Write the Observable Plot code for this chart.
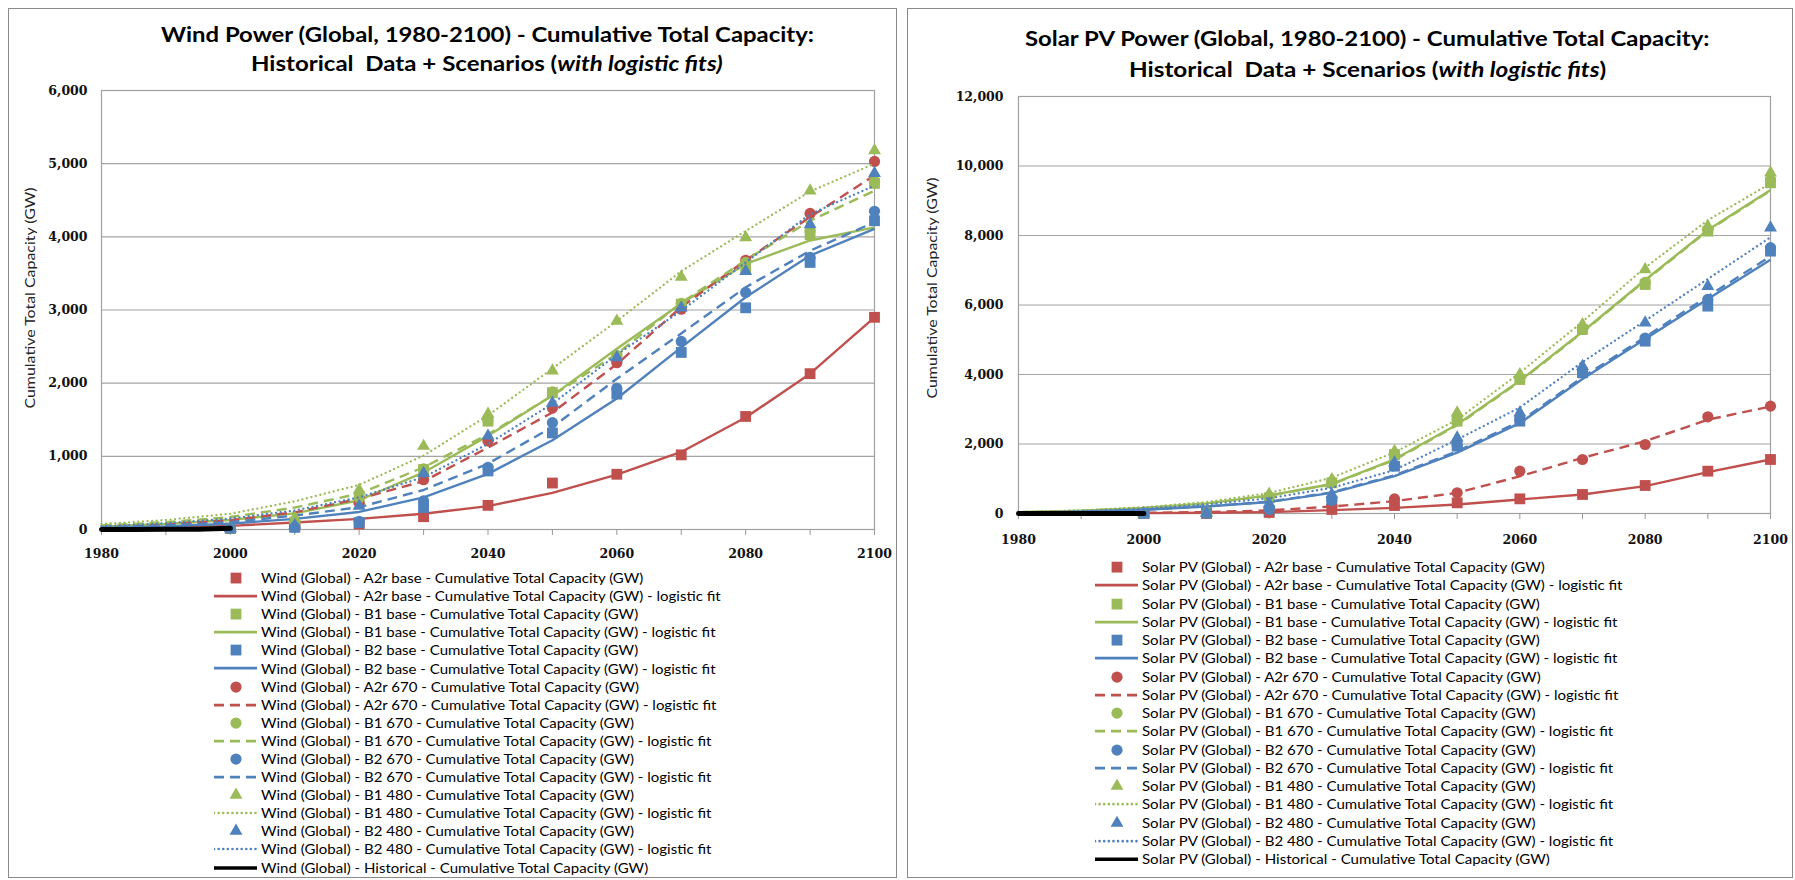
<!DOCTYPE html>
<html>
<head>
<meta charset="utf-8">
<script src="https://cdn.jsdelivr.net/npm/d3@7"></script>
<script src="https://cdn.jsdelivr.net/npm/@observablehq/plot@0.6"></script>
<style>
  html, body { margin: 0; padding: 0; background: #fff; }
  body { width: 1795px; height: 880px; position: relative; overflow: hidden; font-family: Lato, sans-serif; color: #000; }
  .panel { position: absolute; border: 1px solid #8a8a8a; box-sizing: border-box; }
  .title { position: absolute; width: 0; font-family: Lato, sans-serif; font-weight: bold; font-size: 21px; }
  .title .line { position: absolute; left: 0; white-space: nowrap; transform-origin: 0 50%; }
  .chart { position: absolute; }
  .legend { position: absolute; font-family: Lato, sans-serif; font-size: 13px; color: #000; }
  .legend .row { display: flex; align-items: center; white-space: nowrap; }
  .legend svg { flex: none; margin-right: 4px; }
  .legend .txt { display: inline-block; transform-origin: 0 50%; }
</style>
</head>
<body>
<div class="panel" style="left:8px;top:8px;width:889px;height:870px;"></div>
<div class="panel" style="left:907px;top:8px;width:886px;height:870px;"></div>
<div class="title" id="title-wind" style="left:487px;top:0px;"></div>
<div class="title" id="title-solar" style="left:1367px;top:0px;"></div>
<div class="chart" id="chart-wind" style="left:9px;top:80px;"></div>
<div class="chart" id="chart-solar" style="left:908px;top:80px;"></div>
<div class="legend" id="legend-wind" style="left:214px;top:569px;"></div>
<div class="legend" id="legend-solar" style="left:1095px;top:558px;"></div>
<script>
// ---------- categories / years ----------
const scenarios = ["A2r base", "B1 base", "B2 base", "A2r 670", "B1 670", "B2 670", "B1 480", "B2 480"];
const pointYears = [2000, 2010, 2020, 2030, 2040, 2050, 2060, 2070, 2080, 2090, 2100];
const fitYears = [1980, 1990, 2000, 2010, 2020, 2030, 2040, 2050, 2060, 2070, 2080, 2090, 2100];
const histYears = [1980, 1985, 1990, 1995, 2000];

// ---------- Wind: scenario points (GW) ----------
const windA2rBase = [17, 40, 75, 175, 330, 635, 755, 1020, 1545, 2130, 2900];
const windB1Base  = [17, 100, 420, 820, 1480, 1870, 2360, 3080, 3580, 4030, 4730];
const windB2Base  = [17, 30, 95, 300, 800, 1320, 1850, 2420, 3030, 3650, 4220];
const windA2r670  = [17, 50, 360, 680, 1210, 1660, 2280, 3010, 3680, 4320, 5030];
const windB1670   = [17, 100, 430, 830, 1490, 1880, 2380, 3090, 3650, 4080, 4760];
const windB2670   = [17, 30, 110, 390, 850, 1460, 1930, 2570, 3240, 3720, 4350];
const windB1480   = [17, 160, 540, 1140, 1580, 2170, 2850, 3450, 3990, 4630, 5180];
const windB2480   = [17, 60, 320, 770, 1280, 1730, 2350, 3030, 3530, 4170, 4870];
// ---------- Wind: logistic fits (GW) ----------
const windA2rBaseFit = [10, 25, 50, 95, 145, 215, 320, 500, 750, 1060, 1530, 2130, 2900];
const windB1BaseFit  = [40, 75, 130, 220, 400, 780, 1280, 1830, 2470, 3090, 3630, 3950, 4130];
const windB2BaseFit  = [20, 40, 80, 145, 240, 440, 760, 1220, 1790, 2490, 3175, 3745, 4110];
const windA2r670Fit  = [35, 70, 125, 235, 420, 660, 1120, 1600, 2260, 3040, 3680, 4270, 4840];
const windB1670Fit   = [55, 100, 170, 300, 490, 850, 1300, 1830, 2400, 3100, 3680, 4220, 4630];
const windB2670Fit   = [30, 55, 100, 190, 305, 540, 900, 1400, 2060, 2680, 3310, 3810, 4200];
const windB1480Fit   = [75, 130, 215, 385, 610, 1010, 1560, 2200, 2850, 3530, 4080, 4620, 5000];
const windB2480Fit   = [45, 85, 150, 260, 440, 715, 1170, 1720, 2390, 2990, 3650, 4310, 4700];
const windHistorical = [0, 1, 2, 5, 17];

// ---------- Solar PV: scenario points (GW) ----------
const solarA2rBase = [1, 5, 30, 115, 230, 307, 422, 547, 806, 1218, 1554];
const solarB1Base  = [1, 20, 450, 883, 1698, 2657, 3856, 5295, 6590, 8125, 9516];
const solarB2Base  = [1, 10, 90, 355, 1362, 1938, 2657, 4048, 4960, 5967, 7550];
const solarA2r670  = [1, 5, 60, 211, 422, 595, 1218, 1554, 1986, 2782, 3089];
const solarB1670   = [1, 20, 470, 900, 1720, 2700, 3900, 5300, 6650, 8150, 9600];
const solarB2670   = [1, 10, 120, 380, 1380, 1960, 2700, 4100, 5050, 6160, 7650];
const solarB1480   = [1, 30, 560, 978, 1794, 2897, 4000, 5439, 7022, 8269, 9804];
const solarB2480   = [1, 15, 280, 547, 1458, 2178, 2897, 4240, 5487, 6542, 8221];
// ---------- Solar PV: logistic fits (GW) ----------
const solarA2rBaseFit = [2, 5, 10, 20, 40, 96, 163, 259, 403, 547, 787, 1190, 1554];
const solarB1BaseFit  = [35, 80, 160, 290, 520, 850, 1560, 2560, 3820, 5230, 6720, 8160, 9310];
const solarB2BaseFit  = [25, 55, 110, 200, 330, 595, 1074, 1750, 2600, 3870, 5020, 6170, 7300];
const solarA2r670Fit  = [5, 10, 20, 40, 90, 200, 355, 595, 1070, 1600, 2080, 2700, 3080];
const solarB1670Fit   = [35, 80, 155, 285, 510, 840, 1540, 2540, 3800, 5210, 6700, 8140, 9290];
const solarB2670Fit   = [25, 55, 110, 205, 340, 610, 1100, 1790, 2650, 3920, 5080, 6250, 7400];
const solarB1480Fit   = [40, 90, 180, 330, 590, 1030, 1760, 2700, 4050, 5520, 7080, 8440, 9500];
const solarB2480Fit   = [30, 70, 140, 260, 440, 740, 1250, 2130, 3050, 4360, 5550, 6750, 7950];
const solarHistorical = [0, 0, 0.1, 0.3, 1];

// ---------- tick values / texts ----------
const windYTicks = [0, 1000, 2000, 3000, 4000, 5000, 6000];
const solarYTicks = [0, 2000, 4000, 6000, 8000, 10000, 12000];
const xTicks = fitYears;
const yAxisLabel = "Cumulative Total Capacity (GW)";
const windTitle = ["Wind Power (Global, 1980-2100) - Cumulative Total Capacity:", "Historical\u00a0 Data + Scenarios (", "with logistic fits)", ""];
const solarTitle = ["Solar PV Power (Global, 1980-2100) - Cumulative Total Capacity:", "Historical\u00a0 Data + Scenarios (", "with logistic fits", ")"];

// ---------- styles (not data) ----------
const palette = {A2r: "#C0504D", B1: "#9BBB59", B2: "#4F81BD"};
function styleOf(s) {
  const [family, level] = s.split(" ");
  const color = palette[family];
  if (level === "base") return {color, symbol: "square", r: 6.1, dash: null, cap: "butt", width: 2.4};
  if (level === "670") return {color, symbol: "circle", r: 5.6, dash: "10,6", cap: "butt", width: 2.4};
  return {color, symbol: "triangle", r: 4.8, dash: "0.01,4.6", cap: "round", width: 2.3};
}

function chart(cfg) {
  const marks = [
    Plot.gridY({ticks: cfg.yTicks, stroke: "#a4a4a4", strokeOpacity: 1, strokeWidth: 1.2}),
    Plot.frame({stroke: "#a0a0a0", strokeWidth: 1.2}),
    Plot.axisY({ticks: cfg.yTicks, tickFormat: d3.format(","), tickSize: 0, tickPadding: cfg.yPad, label: null,
                fontFamily: "DejaVu Serif", fontWeight: "bold", fontSize: 12.5, fill: "#111"}),
    Plot.axisX({ticks: xTicks, tickFormat: d => d % 20 === 0 ? String(d) : "", tickSize: 6, tickPadding: cfg.xPad,
                lineAnchor: "middle", label: null,
                stroke: "#999", fontFamily: "DejaVu Serif", fontWeight: "bold", fontSize: 12.5, fill: "#111"}),
    Plot.text([yAxisLabel], {frameAnchor: "left", textAnchor: "middle", rotate: -90, dx: cfg.labelDx, dy: cfg.labelDy,
                fontFamily: "Lato", fontSize: 14, fill: "#222"})
  ];
  scenarios.forEach((s, i) => {
    const st = styleOf(s);
    const pts = pointYears.map((yr, j) => ({year: yr, value: cfg.points[i][j]}));
    const fit = fitYears.map((yr, j) => ({year: yr, value: cfg.fits[i][j]}));
    marks.push(Plot.dot(pts, {x: "year", y: "value", symbol: st.symbol, r: st.r, fill: st.color}));
    marks.push(Plot.line(fit, {x: "year", y: "value", stroke: st.color, strokeWidth: st.width,
                               strokeDasharray: st.dash, strokeLinecap: st.cap}));
  });
  marks.push(Plot.line(histYears.map((yr, j) => ({year: yr, value: cfg.hist[j]})),
                       {x: "year", y: "value", stroke: "#000", strokeWidth: 5}));
  const svg = Plot.plot({
    width: cfg.width, height: cfg.height,
    marginLeft: cfg.ml, marginRight: cfg.mr, marginTop: cfg.mt, marginBottom: cfg.mb,
    x: {domain: [1980, 2100]},
    y: {domain: [0, cfg.yMax]},
    style: {background: "transparent", color: "#000", overflow: "visible"},
    marks
  });
  // stretch the y-axis title to its measured length in the reference
  svg.querySelectorAll("text").forEach(t => {
    if (t.textContent === yAxisLabel) {
      t.setAttribute("textLength", cfg.labelLen);
      t.setAttribute("lengthAdjust", "spacingAndGlyphs");
    }
  });
  return svg;
}

function legend(el, prefix, rowH) {
  const rows = [];
  scenarios.forEach(s => {
    rows.push({kind: "point", s, text: `${prefix} - ${s} - Cumulative Total Capacity (GW)`});
    rows.push({kind: "line", s, text: `${prefix} - ${s} - Cumulative Total Capacity (GW) - logistic fit`});
  });
  rows.push({kind: "hist", text: `${prefix} - Historical - Cumulative Total Capacity (GW)`});
  const W = 43;
  for (const r of rows) {
    const row = document.createElement("div");
    row.className = "row";
    row.style.height = rowH + "px";
    const svg = d3.create("svg").attr("width", W).attr("height", rowH);
    const cy = rowH / 2;
    if (r.kind === "point") {
      const st = styleOf(r.s);
      const sym = {square: d3.symbolSquare, circle: d3.symbolCircle, triangle: d3.symbolTriangle}[st.symbol];
      svg.append("path").attr("transform", `translate(${W / 2 + 0.5},${cy})`)
        .attr("d", d3.symbol(sym, Math.PI * st.r * st.r)()).attr("fill", st.color);
    } else if (r.kind === "line") {
      const st = styleOf(r.s);
      svg.append("line").attr("x1", 0).attr("x2", W).attr("y1", cy).attr("y2", cy)
        .attr("stroke", st.color).attr("stroke-width", st.width + 0.3)
        .attr("stroke-dasharray", st.dash).attr("stroke-linecap", st.cap);
    } else {
      svg.append("line").attr("x1", 0).attr("x2", W).attr("y1", cy).attr("y2", cy)
        .attr("stroke", "#000").attr("stroke-width", 3.5);
    }
    row.appendChild(svg.node());
    const span = document.createElement("span");
    span.className = "txt";
    span.textContent = r.text;
    row.appendChild(span);
    el.appendChild(row);
  }
}

function title(el, parts, lines) {
  const l1 = document.createElement("div");
  l1.className = "line";
  l1.textContent = parts[0];
  const l2 = document.createElement("div");
  l2.className = "line";
  l2.appendChild(document.createTextNode(parts[1]));
  const it = document.createElement("i");
  it.textContent = parts[2];
  l2.appendChild(it);
  l2.appendChild(document.createTextNode(parts[3]));
  el.appendChild(l1);
  el.appendChild(l2);
  [l1, l2].forEach((ln, k) => { ln.dataset.top = lines[k].top; ln.dataset.w = lines[k].width; });
}

function fitTexts() {
  document.querySelectorAll(".title .line").forEach(ln => {
    const w = ln.offsetWidth, h = ln.offsetHeight;
    const target = +ln.dataset.w;
    ln.style.left = (-target / 2) + "px";
    ln.style.top = (+ln.dataset.top - h / 2) + "px";
    ln.style.transform = `scaleX(${target / w})`;
  });
  [["legend-wind", 382], ["legend-solar", 403]].forEach(([id, target]) => {
    const spans = document.querySelectorAll(`#${id} .txt`);
    const k = target / spans[0].offsetWidth;
    spans.forEach(s => { s.style.transform = `scaleX(${k})`; });
  });
}

title(document.getElementById("title-wind"), windTitle, [{top: 33, width: 653}, {top: 62, width: 472}]);
title(document.getElementById("title-solar"), solarTitle, [{top: 37, width: 684}, {top: 68, width: 477}]);

document.getElementById("chart-wind").appendChild(chart({
  width: 887, height: 480, ml: 92, mr: 22, mt: 10, mb: 31,
  yMax: 6000, yTicks: windYTicks, yPad: 14, xPad: 18, labelDx: -71, labelDy: -12, labelLen: 221,
  points: [windA2rBase, windB1Base, windB2Base, windA2r670, windB1670, windB2670, windB1480, windB2480],
  fits: [windA2rBaseFit, windB1BaseFit, windB2BaseFit, windA2r670Fit, windB1670Fit, windB2670Fit, windB1480Fit, windB2480Fit],
  hist: windHistorical
}));
document.getElementById("chart-solar").appendChild(chart({
  width: 885, height: 480, ml: 110, mr: 23, mt: 16, mb: 47,
  yMax: 12000, yTicks: solarYTicks, yPad: 15, xPad: 20, labelDx: -86, labelDy: -17, labelLen: 221,
  points: [solarA2rBase, solarB1Base, solarB2Base, solarA2r670, solarB1670, solarB2670, solarB1480, solarB2480],
  fits: [solarA2rBaseFit, solarB1BaseFit, solarB2BaseFit, solarA2r670Fit, solarB1670Fit, solarB2670Fit, solarB1480Fit, solarB2480Fit],
  hist: solarHistorical
}));
legend(document.getElementById("legend-wind"), "Wind (Global)", 18.1);
legend(document.getElementById("legend-solar"), "Solar PV (Global)", 18.25);
fitTexts();
if (document.fonts && document.fonts.ready) document.fonts.ready.then(fitTexts);
</script>
</body>
</html>
